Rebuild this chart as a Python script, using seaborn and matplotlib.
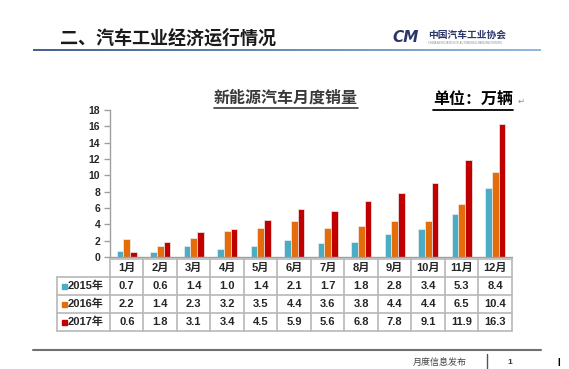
import numpy as np
import pandas as pd
import matplotlib
matplotlib.use("Agg")
import matplotlib.pyplot as plt
from matplotlib.lines import Line2D
from matplotlib.patches import Rectangle
import seaborn as sns

months = ["1月", "2月", "3月", "4月", "5月", "6月", "7月", "8月", "9月", "10月", "11月", "12月"]
years = ["2015年", "2016年", "2017年"]
sales_2015 = [0.7, 0.6, 1.4, 1.0, 1.4, 2.1, 1.7, 1.8, 2.8, 3.4, 5.3, 8.4]
sales_2016 = [2.2, 1.4, 2.3, 3.2, 3.5, 4.4, 3.6, 3.8, 4.4, 4.4, 6.5, 10.4]
sales_2017 = [0.6, 1.8, 3.1, 3.4, 4.5, 5.9, 5.6, 6.8, 7.8, 9.1, 11.9, 16.3]
colors = ["#4bacc6", "#e46c0a", "#c00000"]

df = pd.DataFrame({
    "month": months * 3,
    "year": np.repeat(years, len(months)),
    "sales": sales_2015 + sales_2016 + sales_2017,
})

sns.set_style("white")
plt.rcParams["font.family"] = ["Liberation Sans", "Noto Sans CJK SC", "DejaVu Sans"]

W, H = 569, 369
fig = plt.figure(figsize=(W / 100, H / 100), dpi=100)

def fx(x):
    return x / W

def fy(y):
    return 1 - y / H

#%% bars
ax = fig.add_axes([fx(110), fy(257), (512 - 110) / W, (257 - 110) / H])
sns.barplot(data=df, x="month", y="sales", hue="year", palette=colors,
            width=0.6, saturation=1, edgecolor="#eeeeee", linewidth=0.5,
            legend=False, ax=ax)
ax.set_ylim(0, 18)
ax.set_xlim(-0.5, 11.5)
ax.set_yticks(range(0, 19, 2))
ax.set_xticks([])
ax.set_xlabel("")
ax.set_ylabel("")
for s in ["top", "right"]:
    ax.spines[s].set_visible(False)
for s in ["left", "bottom"]:
    ax.spines[s].set_color("#a0a0a0")
    ax.spines[s].set_linewidth(1)
ax.tick_params(axis="y", left=True, length=4, width=1, color="#a0a0a0", pad=3, labelsize=7.5)
for lab in ax.get_yticklabels():
    lab.set_fontweight("bold")

#%% data table
tab = fig.add_axes([fx(57), fy(331), (512 - 57) / W, (331 - 259) / H])
tab.set_xlim(57, 512)
tab.set_ylim(331, 259)
tab.axis("off")
col_w = (512 - 110) / 12
xs = [110 + i * col_w for i in range(13)]
rows_y = [259, 277, 295, 313, 331]
grid = "#b8b8b8"
tab.plot([110, 512], [259, 259], color=grid, lw=1.2, clip_on=False)
for y in rows_y[1:]:
    tab.plot([57, 512], [y, y], color=grid, lw=1.2, clip_on=False)
tab.plot([57, 57], [277, 331], color=grid, lw=1.2, clip_on=False)
for x in xs:
    tab.plot([x, x], [259, 331], color=grid, lw=1.2, clip_on=False)

for i, m in enumerate(months):
    tab.text(xs[i] + col_w / 2, 268, m, ha="center", va="center", fontsize=8, fontweight="bold")

series = [sales_2015, sales_2016, sales_2017]
for r, (yr, vals, c) in enumerate(zip(years, series, colors)):
    yc = (rows_y[r + 1] + rows_y[r + 2]) / 2
    tab.add_patch(Rectangle((61.5, yc - 2.5), 5, 5, color=c, clip_on=False))
    tab.text(68, yc, yr, ha="left", va="center", fontsize=8, fontweight="bold")
    for i, v in enumerate(vals):
        tab.text(xs[i] + col_w / 2, yc, f"{v:.1f}", ha="center", va="center", fontsize=8, fontweight="bold")

#%% slide header / footer
fig.text(fx(60), fy(38), "二、汽车工业经济运行情况", ha="left", va="center",
         fontsize=13, fontweight="bold", color="#1a1a1a", family="Noto Sans CJK SC")
grad = fig.add_axes([fx(33), fy(51), (541 - 33) / W, 2.5 / H])
grad.imshow(np.linspace(0, 1, 256)[None, :], aspect="auto",
            cmap=matplotlib.colors.LinearSegmentedColormap.from_list("g", ["#44628f", "#93b9e3"]))
grad.axis("off")

fig.text(fx(392), fy(38), "CM", ha="left", va="center", fontsize=11, fontweight="bold",
         style="italic", color="#2b3568", family="DejaVu Sans")
fig.text(fx(428), fy(35), "中国汽车工业协会", ha="left", va="center", fontsize=7,
         fontweight="bold", color="#2b3568", family="Noto Sans CJK SC")
fig.text(fx(428), fy(43), "CHINA ASSOCIATION OF AUTOMOBILE MANUFACTURERS", ha="left", va="center",
         fontsize=1.9, color="#8a8a8a")

t1 = fig.text(fx(286), fy(98), "新能源汽车月度销量", ha="center", va="center", fontsize=11.5,
              fontweight="bold", color="#3a3a3a", family="Noto Sans CJK SC")
t2 = fig.text(fx(433), fy(100), "单位：万辆", ha="left", va="center", fontsize=11.5,
              fontweight="bold", color="black", family="Noto Sans CJK SC")
fig.text(fx(518), fy(101), "↵", ha="left", va="center", fontsize=6, color="#888888", family="DejaVu Sans")

fig.add_artist(Line2D([fx(33), fx(541)], [fy(350), fy(350)], color="#707070", lw=1.5))
fig.text(fx(413), fy(362), "月度信息发布", ha="left", va="center", fontsize=6.5,
         color="#444444", family="Noto Sans CJK SC")
fig.add_artist(Line2D([fx(487), fx(487)], [fy(354), fy(368)], color="#555555", lw=1))
fig.text(fx(510), fy(362), "1", ha="center", va="center", fontsize=6, fontweight="bold", color="#333333")
fig.text(fx(559), fy(363), "I", ha="center", va="center", fontsize=7, fontweight="bold", color="black")

# underline the two headings
fig.canvas.draw()
renderer = fig.canvas.get_renderer()
inv = fig.transFigure.inverted()
for t, off, lw in [(t1, 2, 1.2), (t2, 2, 1.3)]:
    bb = t.get_window_extent(renderer).transformed(inv)
    y = bb.y0 - off / H
    fig.add_artist(Line2D([bb.x0, bb.x1], [y, y], color=t.get_color(), lw=lw))

fig.savefig("out.png", dpi=100)
